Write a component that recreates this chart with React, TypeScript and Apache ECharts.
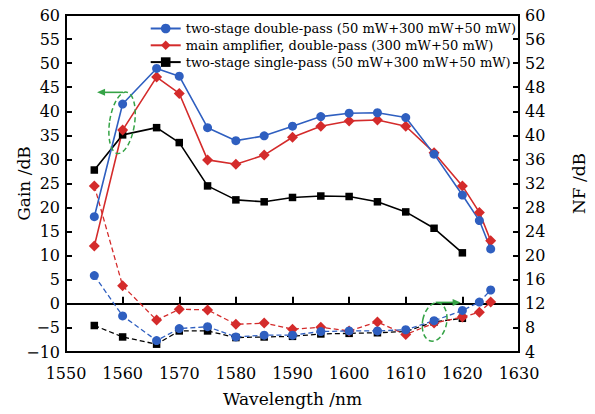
import React, { useEffect, useRef } from "react";
import * as echarts from "echarts";

const wavelengths = [1555, 1560, 1566, 1570, 1575, 1580, 1585, 1590, 1595, 1600, 1605, 1610, 1615, 1620, 1623, 1625];
const wavelengthsSingle = [1555, 1560, 1566, 1570, 1575, 1580, 1585, 1590, 1595, 1600, 1605, 1610, 1615, 1620];

const gainDouble = [18.1, 41.5, 48.9, 47.3, 36.6, 33.9, 34.9, 36.9, 38.9, 39.6, 39.7, 38.7, 31.1, 22.6, 17.3, 11.4];
const gainMain = [12.0, 36.1, 47.1, 43.7, 29.9, 29.0, 30.9, 34.6, 36.9, 38.0, 38.2, 36.9, 31.4, 24.5, 19.0, 13.1];
const gainSingle = [27.8, 35.1, 36.6, 33.5, 24.5, 21.6, 21.2, 22.1, 22.4, 22.3, 21.2, 19.1, 15.7, 10.6];

const nfDouble = [16.7, 10.0, 5.9, 7.9, 8.2, 6.5, 6.8, 6.8, 7.4, 7.5, 7.5, 7.7, 9.2, 10.9, 12.3, 14.3];
const nfMain = [31.6, 15.0, 9.3, 11.1, 11.0, 8.6, 8.8, 7.8, 8.1, 7.5, 9.0, 6.9, 8.8, 9.8, 10.6, 12.3];
const nfSingle = [8.4, 6.5, 5.3, 7.5, 7.5, 6.4, 6.5, 6.6, 7.0, 7.1, 7.2, 7.4, 9.0, 9.6];

const legendNames = [
  "two-stage double-pass (50 mW+300 mW+50 mW)",
  "main amplifier, double-pass (300 mW+50 mW)",
  "two-stage single-pass (50 mW+300 mW+50 mW)",
];

const BLUE = "#2f5fc0";
const RED = "#d42b2b";
const BLACK = "#000000";
const GREEN = "#35a346";
const FONT = "DejaVu Serif, Liberation Serif, serif";

const zip = (xs: number[], ys: number[]) => ys.map((y, i) => [xs[i], y]);

export default function App() {
  const ref = useRef<HTMLDivElement>(null);
  useEffect(() => {
    if (!ref.current) return;
    const chart = echarts.init(ref.current, null, { renderer: "svg" });
    const axisCommon = {
      axisLine: { show: true, lineStyle: { color: "#000", width: 2 } },
      splitLine: { show: false },
    };
    const solid = (name: string, xs: number[], ys: number[], color: string, symbol: string, size: number) => ({
      name,
      type: "line",
      yAxisIndex: 0,
      data: zip(xs, ys),
      symbol,
      symbolSize: size,
      lineStyle: { color, width: 1.6 },
      itemStyle: { color },
    });
    const dashed = (name: string, xs: number[], ys: number[], color: string, symbol: string, size: number) => ({
      name,
      type: "line",
      yAxisIndex: 1,
      data: zip(xs, ys),
      symbol,
      symbolSize: size,
      lineStyle: { color, width: 1.3, type: [5, 3] },
      itemStyle: { color },
    });
    chart.setOption({
      animation: false,
      grid: { left: 66, right: 63, top: 15, bottom: 62, show: true, borderColor: "#000", borderWidth: 2 },
      legend: {
        data: legendNames,
        orient: "vertical",
        right: 74,
        top: 17,
        itemWidth: 30,
        itemHeight: 12,
        itemGap: 3.8,
        selectedMode: false,
        textStyle: { fontFamily: FONT, fontSize: 13, color: "#000" },
      },
      xAxis: {
        type: "value",
        min: 1550,
        max: 1630,
        interval: 10,
        name: "Wavelength /nm",
        nameLocation: "middle",
        nameGap: 38,
        nameMoveOverlap: false,
        nameTextStyle: { fontFamily: FONT, fontSize: 17, color: "#000" },
        axisLabel: { fontFamily: FONT, fontSize: 16, color: "#000", margin: 13, formatter: (v: number) => String(v) },
        ...axisCommon,
        axisTick: { show: true, inside: true, length: 7, lineStyle: { color: "#000", width: 2 } },
      },
      yAxis: [
        {
          type: "value",
          min: -10,
          max: 60,
          interval: 5,
          name: "Gain /dB",
          nameLocation: "middle",
          nameGap: 34,
          nameMoveOverlap: false,
          nameTextStyle: { fontFamily: FONT, fontSize: 17, color: "#000" },
          axisLabel: {
            fontFamily: FONT,
            fontSize: 16,
            color: "#000",
            margin: 6,
            formatter: (v: number) => String(v).replace("-", "\u2212"),
          },
          ...axisCommon,
          axisTick: { show: true, inside: true, length: 6, lineStyle: { color: "#000", width: 2 } },
        },
        {
          type: "value",
          position: "right",
          min: 4,
          max: 60,
          interval: 4,
          name: "NF /dB",
          nameLocation: "middle",
          nameGap: 51,
          nameMoveOverlap: false,
          nameTextStyle: { fontFamily: FONT, fontSize: 17, color: "#000" },
          axisLabel: { fontFamily: FONT, fontSize: 16, color: "#000", margin: 6 },
          ...axisCommon,
          axisTick: { show: true, inside: true, length: 6, lineStyle: { color: "#000", width: 2 } },
        },
      ],
      series: [
        dashed("NF single-pass", wavelengthsSingle, nfSingle, BLACK, "rect", 7.5),
        solid(legendNames[2], wavelengthsSingle, gainSingle, BLACK, "rect", 7.5),
        dashed("NF main amplifier", wavelengths, nfMain, RED, "diamond", 11),
        solid(legendNames[1], wavelengths, gainMain, RED, "diamond", 11),
        dashed("NF double-pass", wavelengths, nfDouble, BLUE, "circle", 9),
        solid(legendNames[0], wavelengths, gainDouble, BLUE, "circle", 9),
      ],
    });

    const c1 = chart.convertToPixel({ seriesIndex: 1 }, [1559.9, 37.6]) as number[];
    const c2 = chart.convertToPixel({ seriesIndex: 0 }, [1615.1, 9.0]) as number[];
    const gstyle = { fill: "none", stroke: GREEN, lineWidth: 1.5, lineDash: [5, 3] };
    const astyle = { stroke: GREEN, lineWidth: 1.6 };
    const r1x = 12.5, r1y = 31, r2x = 12, r2y = 19.5;
    const a1y = c1[1] - r1y + 0.5;
    const a2y = c2[1] - r2y;
    chart.setOption({
      graphic: [
        { type: "ellipse", x: c1[0], y: c1[1], rotation: -0.15, shape: { cx: 0, cy: 0, rx: r1x, ry: r1y }, style: gstyle, z: 100 },
        { type: "line", shape: { x1: c1[0] + 1, y1: a1y, x2: c1[0] - 19, y2: a1y }, style: astyle, z: 100 },
        {
          type: "polygon",
          shape: { points: [[c1[0] - 25, a1y], [c1[0] - 17, a1y - 3.5], [c1[0] - 17, a1y + 3.5]] },
          style: { fill: GREEN },
          z: 100,
        },
        { type: "ellipse", x: c2[0], y: c2[1], rotation: -0.2, shape: { cx: 0, cy: 0, rx: r2x, ry: r2y }, style: gstyle, z: 100 },
        { type: "line", shape: { x1: c2[0] + 1, y1: a2y, x2: c2[0] + 20, y2: a2y }, style: astyle, z: 100 },
        {
          type: "polygon",
          shape: { points: [[c2[0] + 26, a2y], [c2[0] + 18, a2y - 3.5], [c2[0] + 18, a2y + 3.5]] },
          style: { fill: GREEN },
          z: 100,
        },
      ],
    });
    return () => chart.dispose();
  }, []);
  return <div ref={ref} style={{ position: "fixed", left: 0, top: 0, width: 595, height: 414, background: "#fff" }} />;
}
